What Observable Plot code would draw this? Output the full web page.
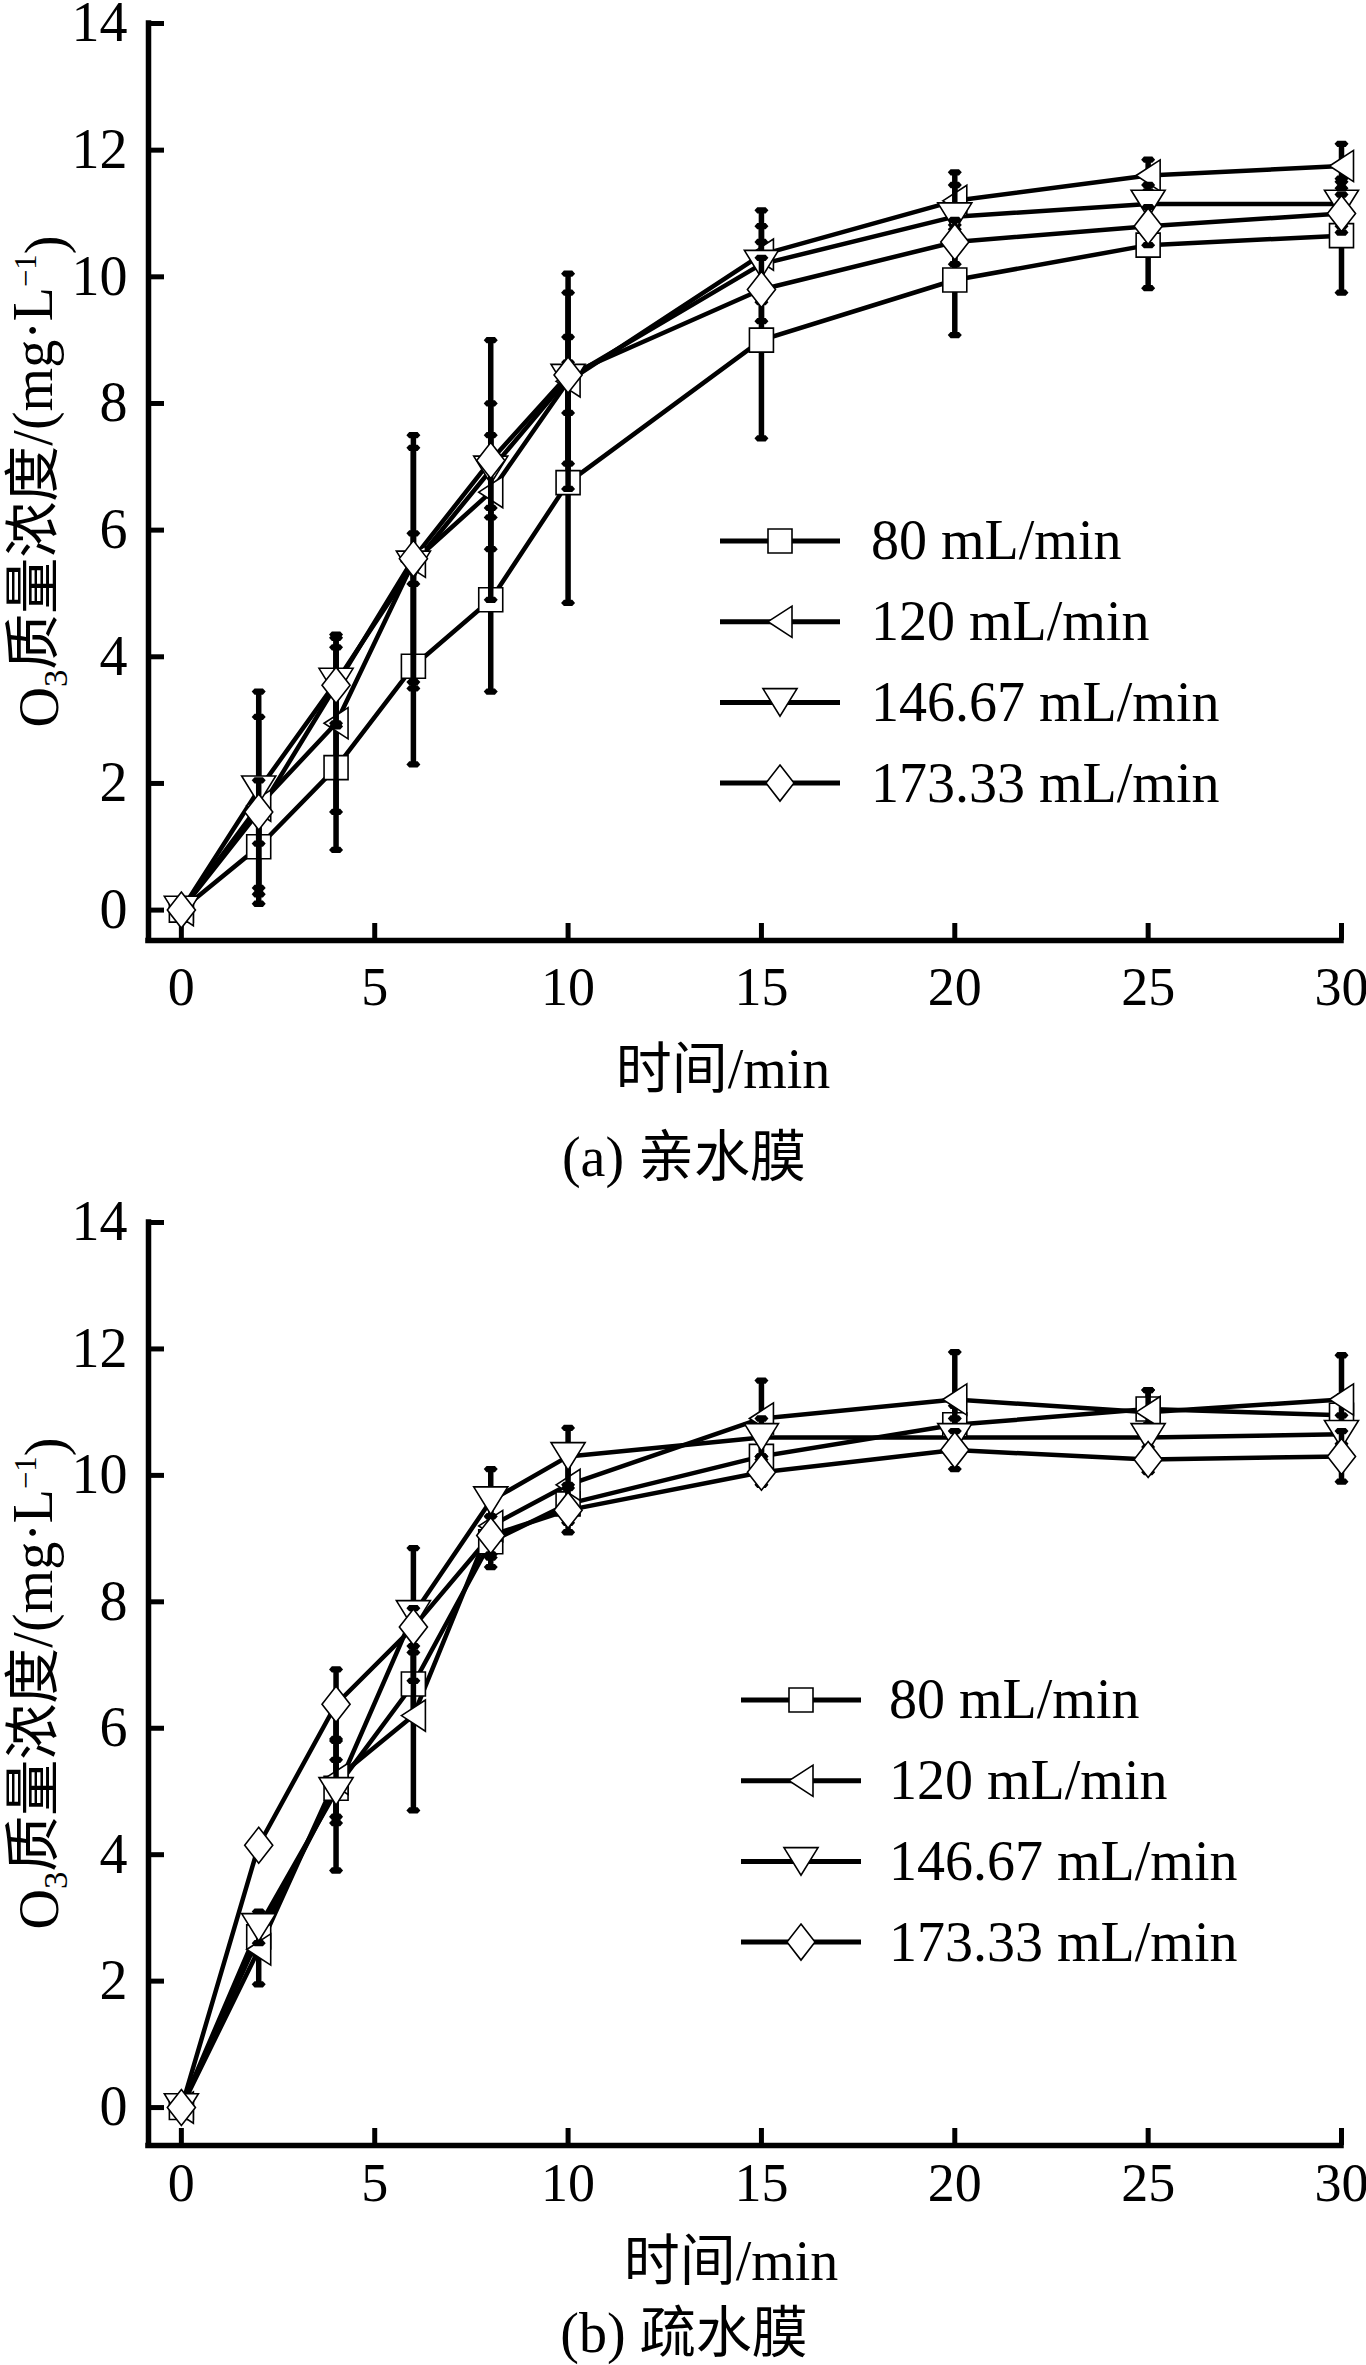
<!DOCTYPE html>
<html>
<head>
<meta charset="utf-8">
<script src="https://cdn.jsdelivr.net/npm/d3@7"></script>
<script src="https://cdn.jsdelivr.net/npm/@observablehq/plot@0.6"></script>
<style>
  html, body { margin: 0; padding: 0; background: #fff; }
  #page { position: relative; width: 1366px; height: 2365px; background: #fff; overflow: hidden;
          font-family: 'Liberation Serif', 'Noto Sans CJK SC', serif; color: #000; }
  #page svg { position: absolute; left: 0; }
  .caption { position: absolute; transform: translate(-50%, -50%); font-size: 56px; line-height: 1; white-space: nowrap; }
</style>
</head>
<body>
<div id="page"></div>
<script>
// ---------- data ----------
const times = [0, 2, 4, 6, 8, 10, 15, 20, 25, 30];
const seriesNames = ["80 mL/min", "120 mL/min", "146.67 mL/min", "173.33 mL/min"];
const xTicks = [0, 5, 10, 15, 20, 25, 30];
const yTicks = [0, 2, 4, 6, 8, 10, 12, 14];
const xLabel = "时间/min";
const captionA = "(a) 亲水膜";
const captionB = "(b) 疏水膜";

// (a) hydrophilic membrane
const a80   = [0, 1.0, 2.25, 3.85, 4.9, 6.75, 9.0, 9.95, 10.5, 10.65];
const a80e  = [0.05, 0.9, 1.3, 1.55, 1.45, 1.9, 1.55, 0.87, 0.68, 0.9];
const a120  = [0, 1.65, 2.95, 5.5, 6.6, 8.35, 10.35, 11.2, 11.6, 11.75];
const a120e = [0.05, 1.4, 1.4, 2.0, 0.9, 1.7, 0.7, 0.45, 0.25, 0.35];
const a146  = [0, 1.9, 3.6, 5.45, 6.95, 8.4, 10.2, 10.95, 11.15, 11.15];
const a146e = [0.05, 1.55, 0.7, 1.85, 2.05, 1.35, 0.6, 0.5, 0.3, 0.35];
const a173  = [0, 1.55, 3.55, 5.55, 7.1, 8.45, 9.8, 10.55, 10.8, 11.0];
const a173e = [0.05, 0.5, 0.6, 0.4, 0.9, 0.6, 0.5, 0.35, 0.3, 0.3];

// (b) hydrophobic membrane
const b80   = [0, 2.7, 5.05, 6.7, 8.95, 9.55, 10.3, 10.8, 11.05, 10.95];
const b80e  = [0.05, 0.3, 1.3, 0.5, 0.4, 0.3, 0.3, 0.3, 0.3, 0.3];
const b120  = [0, 2.5, 5.2, 6.2, 9.2, 9.85, 10.9, 11.2, 11.0, 11.2];
const b120e = [0.05, 0.55, 0.6, 1.5, 0.5, 0.4, 0.6, 0.75, 0.35, 0.7];
const b146  = [0, 2.85, 5.0, 7.8, 9.6, 10.3, 10.6, 10.6, 10.6, 10.65];
const b146e = [0.05, 0.25, 0.5, 1.05, 0.5, 0.45, 0.3, 0.3, 0.2, 0.3];
const b173  = [0, 4.15, 6.38, 7.6, 9.05, 9.45, 10.05, 10.4, 10.25, 10.3];
const b173e = [0.05, 0.1, 0.55, 0.3, 0.3, 0.35, 0.2, 0.3, 0.2, 0.4];

// ---------- symbols ----------
const rad = size => Math.sqrt(size / Math.PI);
const symSquare = { draw(c, s) { const r = rad(s); c.moveTo(-r, -r); c.lineTo(r, -r); c.lineTo(r, r); c.lineTo(-r, r); c.closePath(); } };
const symLeftTri = { draw(c, s) { const r = rad(s); c.moveTo(-r, 0); c.lineTo(r, -1.3 * r); c.lineTo(r, 1.3 * r); c.closePath(); } };
const symDownTri = { draw(c, s) { const r = rad(s); c.moveTo(-1.42 * r, -1.15 * r); c.lineTo(1.42 * r, -1.15 * r); c.lineTo(0, 1.15 * r); c.closePath(); } };
const symDiamond = { draw(c, s) { const r = rad(s); c.moveTo(0, -1.5 * r); c.lineTo(1.17 * r, 0); c.lineTo(0, 1.5 * r); c.lineTo(-1.17 * r, 0); c.closePath(); } };
const symCap = { draw(c, s) { const r = rad(s); c.moveTo(-r, 0); c.lineTo(-0.6 * r, -0.45 * r); c.lineTo(0.6 * r, -0.45 * r); c.lineTo(r, 0); c.lineTo(0.6 * r, 0.45 * r); c.lineTo(-0.6 * r, 0.45 * r); c.closePath(); } };
const symbols = [symSquare, symLeftTri, symDownTri, symDiamond];

const FONT = "'Liberation Serif', 'Noto Sans CJK SC', serif";
const FS = 56;
const FSX = 54;
const xDomain = [-0.85, 30];

function buildRows(vals, errs) {
  const rows = [];
  seriesNames.forEach((s, i) => {
    times.forEach((t, j) => rows.push({ s, t, v: vals[i][j], e: errs[i][j] }));
  });
  return rows;
}

function panel(cfg) {
  const data = buildRows(cfg.vals, cfg.errs);
  const marks = [
    Plot.ruleX([xDomain[0]], { strokeWidth: 5.5, strokeLinecap: "square" }),
    Plot.ruleY([cfg.yDomain[0]], { strokeWidth: 5.5, strokeLinecap: "square" }),
    Plot.axisX(xTicks, { tickSize: -17, strokeWidth: 5, tickPadding: cfg.xTickPad, fontSize: FSX, fontFamily: FONT, label: null, tickFormat: d => String(d) }),
    Plot.axisY(yTicks, { tickSize: -16, strokeWidth: 5, tickPadding: 37, fontSize: FS, fontFamily: FONT, label: null, tickFormat: d => String(d) }),
    Plot.line(data, { x: "t", y: "v", z: "s", stroke: "black", strokeWidth: 4.5 }),
    Plot.text([xLabel], { text: d => d, frameAnchor: "bottom", dy: cfg.xLabelDy, dx: cfg.xLabelDx, lineAnchor: "middle", fontSize: FS, fontFamily: FONT })
  ];
  seriesNames.forEach((name, i) => {
    const sub = data.filter(d => d.s === name);
    marks.push(Plot.ruleX(sub, { x: "t", y1: d => d.v - d.e, y2: d => d.v + d.e, stroke: "black", strokeWidth: 5.5 }));
    marks.push(Plot.dot(sub, { x: "t", y: d => d.v - d.e, symbol: symCap, r: 7, fill: "black", stroke: "none" }));
    marks.push(Plot.dot(sub, { x: "t", y: d => d.v + d.e, symbol: symCap, r: 7, fill: "black", stroke: "none" }));
    marks.push(Plot.dot(sub, { x: "t", y: "v", symbol: symbols[i], r: 12, fill: "white", stroke: "black", strokeWidth: 1.6 }));
  });
  const svg = Plot.plot({
    width: 1366,
    height: cfg.height,
    marginLeft: 148,
    marginRight: 25,
    marginTop: cfg.marginTop,
    marginBottom: cfg.marginBottom,
    x: { domain: xDomain },
    y: { domain: cfg.yDomain },
    style: { fontFamily: FONT, fontSize: FS + "px", background: "white", color: "black", overflow: "visible" },
    marks
  });
  svg.style.top = cfg.top + "px";

  const s = d3.select(svg);
  // y-axis title with subscript / superscript
  const frameTop = cfg.marginTop, frameBottom = cfg.height - cfg.marginBottom;
  const yc = (frameTop + frameBottom) / 2;
  const t = s.append("text")
    .attr("transform", `translate(38,${yc}) rotate(-90)`)
    .attr("text-anchor", "middle")
    .attr("dy", "0.35em")
    .attr("font-size", FS)
    .attr("font-family", FONT)
    .attr("fill", "black");
  t.append("tspan").text("O");
  t.append("tspan").attr("dy", "0.28em").attr("font-size", FS * 0.62).text("3");
  t.append("tspan").attr("dy", "-0.28em").text("质量浓度/(mg·L");
  t.append("tspan").attr("dy", "-0.5em").attr("font-size", FS * 0.55).text("−1");
  t.append("tspan").attr("dy", "0.5em").text(")");

  // legend
  const g = s.append("g");
  seriesNames.forEach((name, i) => {
    const y = cfg.legend.y0 + i * cfg.legend.dy;
    g.append("line").attr("x1", cfg.legend.x1).attr("x2", cfg.legend.x2).attr("y1", y).attr("y2", y)
      .attr("stroke", "black").attr("stroke-width", 5);
    const p = d3.path();
    symbols[i].draw(p, Math.PI * 12 * 12);
    g.append("path").attr("d", p.toString()).attr("transform", `translate(${(cfg.legend.x1 + cfg.legend.x2) / 2},${y})`)
      .attr("fill", "white").attr("stroke", "black").attr("stroke-width", 1.6);
    g.append("text").attr("x", cfg.legend.tx).attr("y", y).attr("dy", "0.33em")
      .attr("text-anchor", "start")
      .attr("font-size", FS).attr("font-family", FONT).attr("fill", "black").text(name);
  });
  return svg;
}

const page = document.getElementById("page");
page.appendChild(panel({
  vals: [a80, a120, a146, a173], errs: [a80e, a120e, a146e, a173e],
  top: 0, height: 1110, marginTop: 23, marginBottom: 170, yDomain: [-0.48, 14],
  xTickPad: 43, xLabelDy: 130, xLabelDx: -22,
  legend: { x1: 720, x2: 840, tx: 871, y0: 541, dy: 80.7 }
}));
page.appendChild(panel({
  vals: [b80, b120, b146, b173], errs: [b80e, b120e, b146e, b173e],
  top: 1200, height: 1165, marginTop: 22, marginBottom: 220, yDomain: [-0.6, 14],
  xTickPad: 34, xLabelDy: 117, xLabelDx: -14,
  legend: { x1: 741, x2: 861, tx: 889, y0: 500, dy: 80.7 }
}));

function caption(text, x, y) {
  const d = document.createElement("div");
  d.className = "caption";
  d.style.left = x + "px";
  d.style.top = y + "px";
  d.textContent = text;
  page.appendChild(d);
}
caption(captionA, 684, 1157);
caption(captionB, 684, 2333);
</script>
</body>
</html>
